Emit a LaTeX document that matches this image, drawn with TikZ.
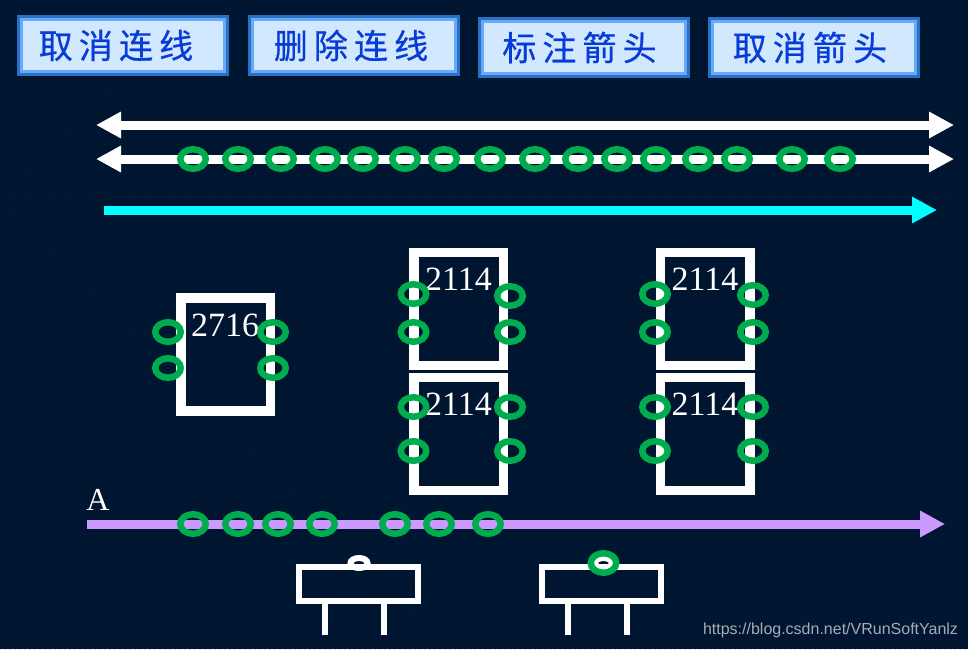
\documentclass[tikz,border=0pt]{standalone}
\usepackage{fontspec}
\setmainfont{Liberation Serif}
\newfontfamily\cjk[LetterSpace=18,FakeBold=0.6]{Noto Sans CJK SC}
\newfontfamily\wmfont{Liberation Sans}
\usetikzlibrary{shapes.geometric, arrows.meta, positioning, patterns.meta}
\definecolor{bgnavy}{RGB}{0,21,48}
\definecolor{bgdot}{RGB}{5,45,90}
\definecolor{btndark}{RGB}{44,112,192}
\definecolor{btnlight}{RGB}{102,170,255}
\definecolor{btnfill}{RGB}{210,232,255}
\definecolor{btntext}{RGB}{8,60,215}
\definecolor{ringgreen}{RGB}{0,173,78}
\definecolor{buscyan}{RGB}{0,255,255}
\definecolor{buslilac}{RGB}{204,153,255}
\definecolor{wmgray}{RGB}{165,172,180}
\newcommand{\btnlabel}[2]{\raisebox{2pt}{#2\kern#1pt}}
\tikzset{
    btn/.style={preaction={draw=btndark, line width=9pt}, draw=btnlight, line width=3pt, fill=btnfill, outer sep=0pt, inner sep=0pt, minimum width=203pt, minimum height=52pt, text=btntext, font=\cjk\fontsize{34}{34}\selectfont},
    bus/.style={line width=9pt, white},
    cyanbus/.style={-{Triangle[length=25pt,width=25pt]}, line width=9pt, buscyan},
    lilacbus/.style={-{Triangle[length=25pt,width=25pt]}, line width=9pt, buslilac},
    ring/.style={ellipse, draw=ringgreen, line width=6.5pt, minimum width=25.5pt, minimum height=19.5pt, inner sep=0pt, outer sep=0pt},
    whitering/.style={ellipse, draw=white, line width=6pt, minimum width=17pt, minimum height=10pt, inner sep=0pt, outer sep=0pt},
    chip/.style={draw=white, line width=9.5pt, outer sep=0pt, inner sep=0pt, minimum width=89.5pt, minimum height=113pt},
    chiptext/.style={text=white, font=\fontsize{34}{34}\selectfont, inner sep=0pt},
    socket/.style={draw=white, line width=6pt, outer sep=0pt, inner sep=0pt, minimum width=119pt, minimum height=34pt},
    leg/.style={white, line width=6pt}
}
\begin{document}
\begin{tikzpicture}[x=1pt, y=-1pt]
    \useasboundingbox (0,0) rectangle (968,649);
    \fill [bgnavy] (0,0) rectangle (968,649);
    \fill [pattern={Dots[distance=5pt, radius=0.5pt]}, pattern color=bgdot] (0,0) rectangle (968,649);
    % buttons
    \node [btn] (cancelline) at (123,45.5) {\btnlabel{14}{取消连线}};
    \node [btn] (deleteline) at (354,45.5) {\btnlabel{6}{删除连线}};
    \node [btn] (markarrow) at (583.5,47.5) {\btnlabel{8}{标注箭头}};
    \node [btn] (cancelarrow) at (814,47.5) {\btnlabel{8}{取消箭头}};
    % buses
    \coordinate (bus1l) at (96,125);
    \coordinate (bus1r) at (954,125);
    \coordinate (bus2l) at (96,159);
    \coordinate (bus2r) at (954,159);
    \coordinate (bus3l) at (104,210);
    \coordinate (bus3r) at (937,210);
    \coordinate (bus4l) at (87,524);
    \coordinate (bus4r) at (945,524);
    \draw [bus, {Triangle[length=25pt,width=25pt]}-{Triangle[length=25pt,width=25pt]}] (bus1l) -- (bus1r);
    \draw [bus, {Triangle[length=25pt,width=25pt]}-{Triangle[length=25pt,width=25pt]}] (bus2l) -- (bus2r);
    \draw [cyanbus] (bus3l) -- (bus3r);
    \draw [lilacbus] (bus4l) -- (bus4r);
    \node [text=white, font=\fontsize{32}{32}\selectfont, inner sep=0pt] (labela) at (98,500) {A};
    \foreach \x in {193,238,281,325,363,405,444,490,535,578,617,656,698,737,792,840}
        \node [ring] (top\x) at (\x,159) {};
    \foreach \x in {193,238,278,322,395,439,488}
        \node [ring] (low\x) at (\x,524) {};
    % chips
    \node [chip] (rom) at (225.5,354.5) {};
    \node [chiptext] (romtext) at (225,325) {2716};
    \foreach \name/\x/\y in {a/458.5/309, b/458.5/434, c/705/309, d/705/434} {
        \node [chip] (ram\name) at (\x,\y) {};
        \node [chiptext] (ramtext\name) at (\x,\y-30) {2114};
    }
    \foreach \x/\y in {168/332,168/368,273/332,273/368,
                       413.5/294,413.5/332,510/296,510/332,
                       413.5/407,413.5/451,510/407,510/451,
                       655/294,655/332,753/295,753/332,
                       655/407,655/451,753/407,753/451}
        \node [ring] at (\x,\y) {};
    % sockets
    \node [whitering] (pin1) at (359,563) {};
    \node [whitering] (pin2) at (603.5,563) {};
    \node [socket] (socket1) at (358.5,584) {};
    \node [socket] (socket2) at (601.5,584) {};
    \node [ring] (pinring) at (603.5,563) {};
    \coordinate (leg1a) at (325,635);
    \coordinate (leg1b) at (384,635);
    \coordinate (leg2a) at (568,635);
    \coordinate (leg2b) at (627,635);
    \draw [leg] (socket1.south -| leg1a) -- (leg1a);
    \draw [leg] (socket1.south -| leg1b) -- (leg1b);
    \draw [leg] (socket2.south -| leg2a) -- (leg2a);
    \draw [leg] (socket2.south -| leg2b) -- (leg2b);
    \node [text=wmgray, font=\wmfont\fontsize{16}{16}\selectfont, inner sep=0pt] (watermark) at (830.5,630) {https://blog.csdn.net/VRunSoftYanlz};
\end{tikzpicture}
\end{document}
